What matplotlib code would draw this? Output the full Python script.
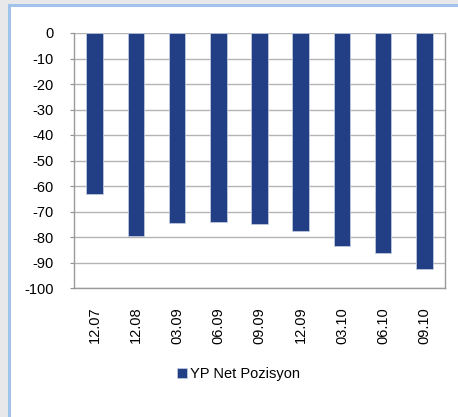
import matplotlib
matplotlib.use("Agg")
import matplotlib.pyplot as plt
from matplotlib.patches import Rectangle

# Quarter-end periods and net FX position values
periods = ["12.07", "12.08", "03.09", "06.09", "09.09", "12.09", "03.10", "06.10", "09.10"]
net_position = [-63.2, -79.7, -74.6, -74.0, -75.0, -77.8, -83.5, -86.3, -92.4]
y_ticks = [0, -10, -20, -30, -40, -50, -60, -70, -80, -90, -100]
series_label = "YP Net Pozisyon"

W, H = 458, 417
fig = plt.figure(figsize=(W / 100, H / 100), dpi=100)
fig.patch.set_facecolor("#e8e8ea")

# White panel with light blue frame, kept beneath the axes
fig.patches.append(Rectangle((8 / W, 0), (W - 8) / W, (H - 4) / H,
                             transform=fig.transFigure, facecolor="#9fc3ea",
                             edgecolor="none", zorder=-10))
fig.patches.append(Rectangle((11 / W, 0), (W - 11) / W, (H - 7) / H,
                             transform=fig.transFigure, facecolor="white",
                             edgecolor="none", zorder=-9))

# Plot area
left, right, top, bottom = 74, 445, 33, 288
ax = fig.add_axes([left / W, 1 - bottom / H, (right - left) / W, (bottom - top) / H])
ax.set_facecolor("none")

x = list(range(len(periods)))
ax.bar(x, net_position, width=0.4, color="#223f85", edgecolor="#c8d0e4",
       linewidth=0.5, zorder=3, label=series_label)

ax.set_xlim(-0.5, len(periods) - 0.5)
ax.set_ylim(-100, 0)
ax.set_yticks(y_ticks)
ax.set_yticklabels([str(v) for v in y_ticks], fontsize=10.5, family="Liberation Sans")
ax.yaxis.grid(True, color="#b4b4b4", linewidth=1.0, zorder=0)
ax.set_axisbelow(True)

ax.set_xticks(x)
ax.set_xticklabels(periods, rotation=90, fontsize=10.5, family="Liberation Sans")
ax.tick_params(axis="x", length=0, pad=13.5)
ax.tick_params(axis="y", length=3, color="#909090", direction="out", pad=11.5)

for side in ["left", "bottom", "right"]:
    ax.spines[side].set_color("#9a9a9a")
    ax.spines[side].set_linewidth(1.0)
ax.spines["top"].set_visible(False)

fig.legend(loc="center", bbox_to_anchor=(0.52, 1 - 374 / H), frameon=False,
           prop={"family": "Liberation Sans", "size": 10.5},
           handlelength=0.7, handleheight=0.7, handletextpad=0.2)

fig.savefig("out.png", dpi=100, facecolor=fig.get_facecolor())
